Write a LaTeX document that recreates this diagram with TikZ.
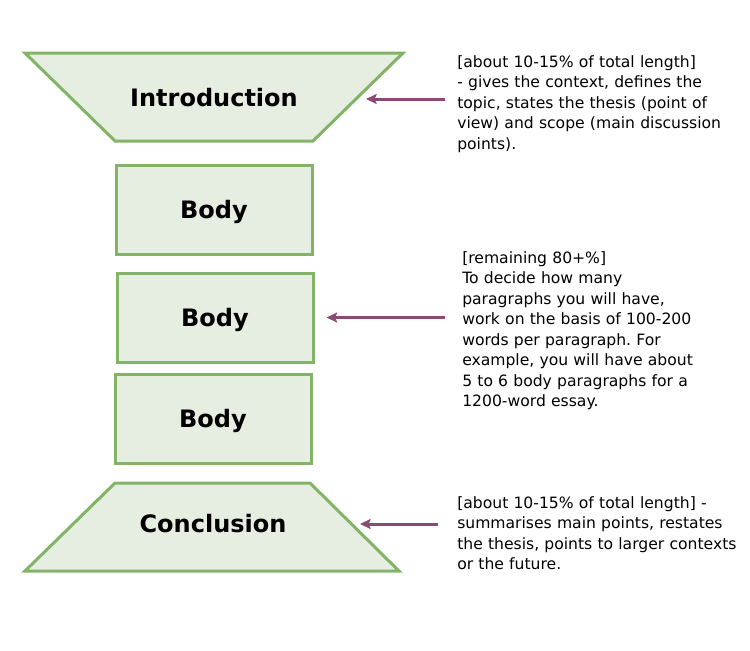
\documentclass[tikz,border=0pt]{standalone}
\usepackage{fontspec}
\setmainfont{DejaVu Sans}
\usetikzlibrary{arrows.meta,calc}
\frenchspacing

\definecolor{partgreen}{HTML}{82B366}
\definecolor{partfill}{HTML}{E6EDE1}
\definecolor{notepurple}{HTML}{8A4A72}

\tikzset{
  part/.style={draw=partgreen, fill=partfill, line width=2.25pt, line join=miter},
  title/.style={font=\fontsize{18pt}{21pt}\selectfont\bfseries},
  bodybox/.style={part, minimum width=147pt, minimum height=66.75pt, inner sep=0pt, text depth=0pt, title},
  note/.style={anchor=base west, inner sep=0pt, text width=240pt, align=left,
    font=\fontsize{11.7pt}{15.4pt}\selectfont},
  pointer/.style={draw=notepurple, line width=2.25pt, -{Stealth[length=8pt,width=7.5pt,inset=1.5pt]}},
}

\begin{document}
\begin{tikzpicture}[x=0.75pt,y=-0.75pt]
\useasboundingbox (0,0) rectangle (750,650);
\draw [part] (25,53) -- (403,53) -- (313,141) -- (115,141) -- cycle;
\draw [part] (115,483) -- (310,483) -- (399,571) -- (25,571) -- cycle;
\node (intro) at (214,98) [title] {Introduction};
\node (body1) at (214,209.5) [bodybox] {Body};
\node (body2) at (215,317.5) [bodybox] {Body};
\node (body3) at (213,418.5) [bodybox] {Body};
\node (concl) at (213,524) [title] {Conclusion};
\coordinate (introtip) at (366,99);
\coordinate (concltip) at (360,524);
\node (introtxt) at (457,67) [note]
{[about 10-15\% of total length]\\
- gives the context, defines the\\
topic, states the thesis (point of\\
view) and scope (main discussion\\
points).};
\node (bodytxt) at (462,263) [note]
{[remaining 80+\%]\\
To decide how many\\
paragraphs you will have,\\
work on the basis of 100-200\\
words per paragraph. For\\
example, you will have about\\
5 to 6 body paragraphs for a\\
1200-word essay.};
\node (concltxt) at (457,508) [note]
{[about 10-15\% of total length] -\\
summarises main points, restates\\
the thesis, points to larger contexts\\
or the future.};
\path
(introtxt.west |- introtip) edge [pointer, shorten <=9pt] (introtip)
(bodytxt.west |- body2.east) edge [pointer, shorten <=12.75pt, shorten >=9pt] (body2.east)
(concltxt.west |- concltip) edge [pointer, shorten <=14.25pt] (concltip);
\end{tikzpicture}
\end{document}
